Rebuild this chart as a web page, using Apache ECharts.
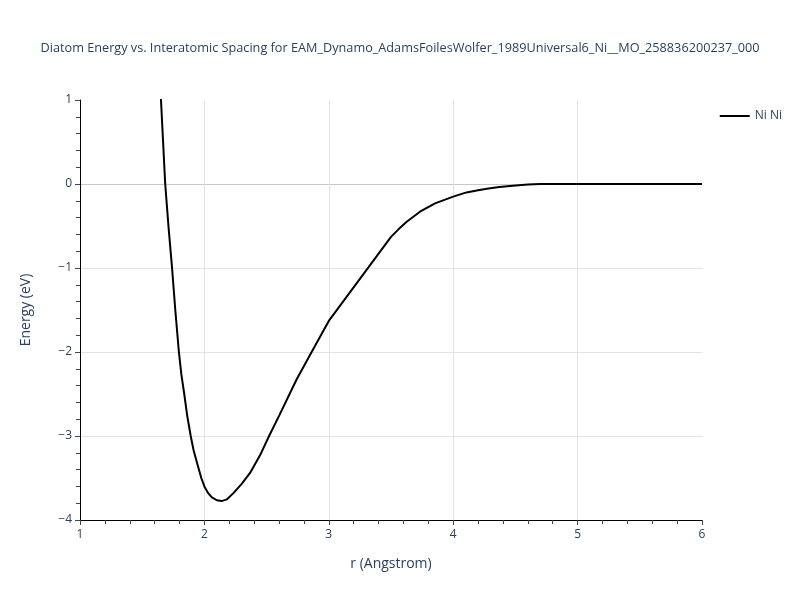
<!DOCTYPE html>
<html>
<head>
<meta charset="utf-8">
<script src="https://cdn.jsdelivr.net/npm/echarts@6/dist/echarts.min.js"></script>
<style>html,body{margin:0;padding:0;background:#fff}#main{width:800px;height:600px}</style>
</head>
<body>
<div id="main"></div>
<script>
const titleText = "Diatom Energy vs. Interatomic Spacing for EAM_Dynamo_AdamsFoilesWolfer_1989Universal6_Ni__MO_258836200237_000";
const seriesName = "Ni Ni";
const rValues = [1.60, 1.651, 1.685, 1.711, 1.74, 1.766, 1.795, 1.815, 1.838, 1.862, 1.89, 1.913, 1.95, 1.975, 2.0, 2.03, 2.06, 2.1, 2.139, 2.18, 2.233, 2.3, 2.367, 2.447, 2.52, 2.6, 2.74, 2.862, 3.0, 3.25, 3.5, 3.56, 3.626, 3.733, 3.854, 4.0, 4.107, 4.2, 4.27, 4.37, 4.48, 4.6, 4.70, 5.0, 5.5, 6.0];
const energyValues = [2.6, 1.0, 0.0, -0.5, -1.0, -1.5, -2.0, -2.27, -2.5, -2.76, -3.0, -3.17, -3.37, -3.50, -3.60, -3.68, -3.73, -3.765, -3.775, -3.755, -3.68, -3.57, -3.44, -3.23, -3.0, -2.76, -2.33, -2.0, -1.63, -1.13, -0.63, -0.54, -0.45, -0.33, -0.23, -0.15, -0.10, -0.075, -0.056, -0.036, -0.02, -0.007, 0.0, 0.0, 0.0, 0.0];

const font = '"Open Sans", Verdana, Arial, sans-serif';
const txt = '#2a3f5f';
const grid = '#e3e3e3';
const chart = echarts.init(document.getElementById('main'));
chart.setOption({
  animation: false,
  textStyle: {fontFamily: font},
  title: {
    text: titleText, left: 'center', top: 37,
    textStyle: {fontFamily: font, fontSize: 12.7, fontWeight: 'normal', color: txt}
  },
  legend: {
    right: 13, top: 105, orient: 'vertical', icon: 'path://M0,0 L30,0 L30,2 L0,2 Z',
    itemWidth: 30, itemHeight: 2, itemGap: 10,
    textStyle: {fontFamily: font, fontSize: 12, color: txt},
    data: [seriesName]
  },
  grid: {left: 80, right: 98, top: 100, bottom: 80, containLabel: false},
  xAxis: {
    type: 'value', min: 1, max: 6, interval: 1,
    name: 'r (Angstrom)', nameLocation: 'middle', nameGap: 37,
    nameTextStyle: {fontFamily: font, fontSize: 14, color: txt},
    axisLine: {show: true, onZero: false, lineStyle: {color: '#000', width: 1}},
    axisTick: {show: true, length: 5, lineStyle: {color: '#444'}},
    minorTick: {show: true, splitNumber: 5, length: 4, lineStyle: {color: '#444'}},
    axisLabel: {fontFamily: font, fontSize: 12, color: txt, margin: 9},
    splitLine: {show: true, lineStyle: {color: ['transparent', grid, grid, grid, grid, 'transparent'], width: 1}}
  },
  yAxis: {
    type: 'value', min: -4, max: 1, interval: 1,
    name: 'Energy (eV)', nameLocation: 'middle', nameGap: 47,
    nameTextStyle: {fontFamily: font, fontSize: 14, color: txt},
    axisLine: {show: true, onZero: false, lineStyle: {color: '#000', width: 1}},
    axisTick: {show: true, length: 5, lineStyle: {color: '#444'}},
    minorTick: {show: true, splitNumber: 5, length: 4, lineStyle: {color: '#444'}},
    axisLabel: {fontFamily: font, fontSize: 12, color: txt, margin: 8,
      formatter: v => (v < 0 ? '\u2212' + Math.abs(v) : String(v))},
    splitLine: {show: true, lineStyle: {color: ['transparent', grid, grid, grid, '#c8c8c8', 'transparent'], width: 1}}
  },
  series: [{
    name: seriesName, type: 'line', clip: true,
    data: rValues.map((r, i) => [r, energyValues[i]]),
    showSymbol: false, smooth: false,
    lineStyle: {color: '#000', width: 2},
    itemStyle: {color: '#000'}
  }]
});
</script>
</body>
</html>
